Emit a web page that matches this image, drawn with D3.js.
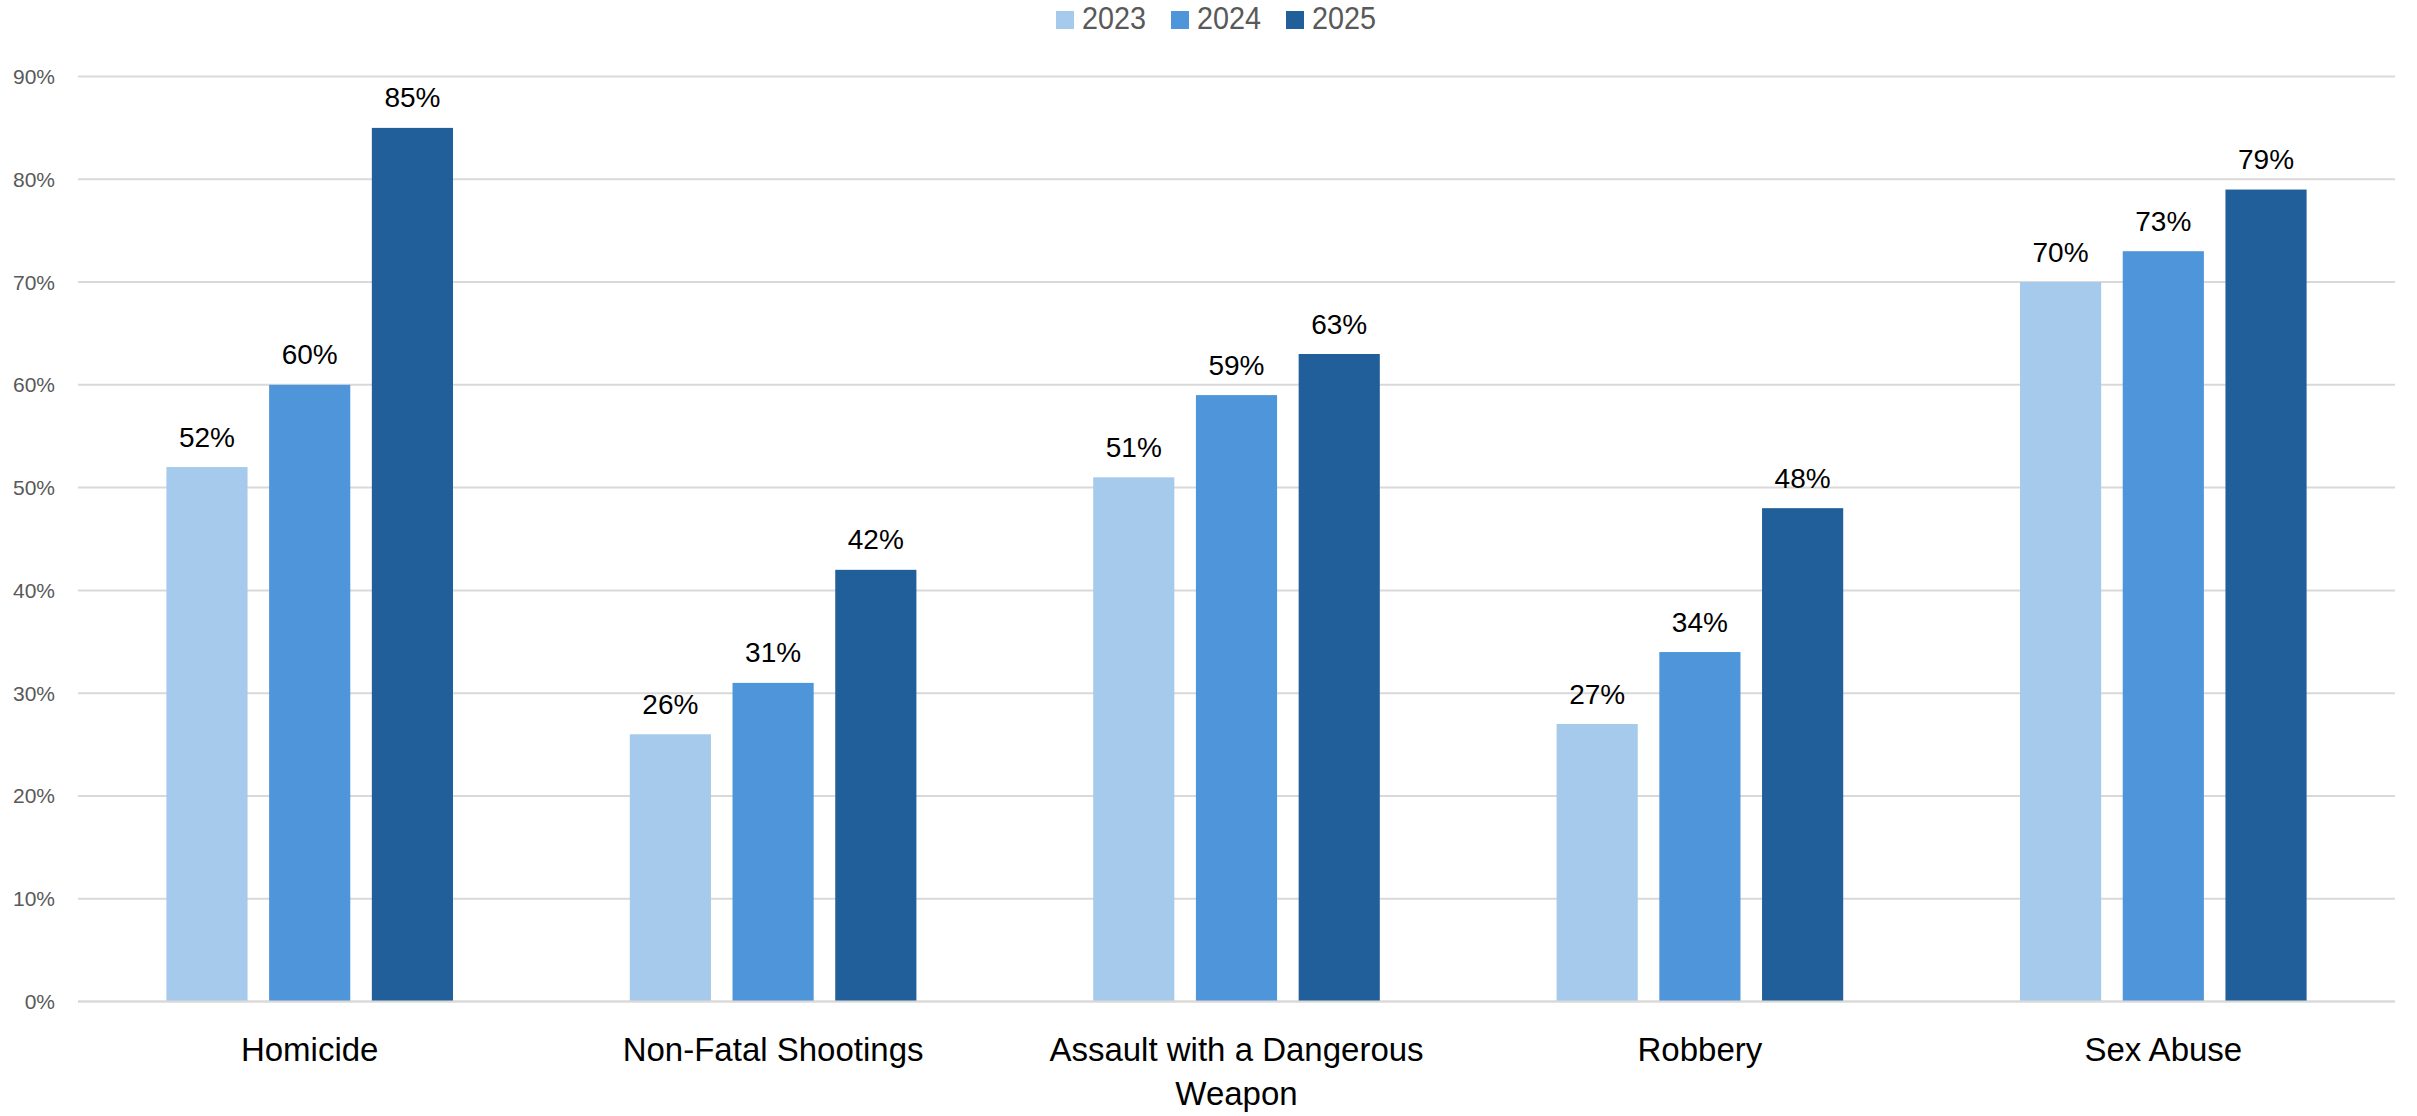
<!DOCTYPE html>
<html>
<head>
<meta charset="utf-8">
<script src="https://cdn.jsdelivr.net/npm/d3@7"></script>
<style>
  html, body { margin: 0; padding: 0; background: #ffffff; }
  svg { display: block; }
</style>
</head>
<body>
<svg id="chart" width="2417" height="1116"></svg>
<script>
const categories = ["Homicide", "Non-Fatal Shootings", "Assault with a Dangerous Weapon", "Robbery", "Sex Abuse"];
const seriesNames = ["2023", "2024", "2025"];
const values2023 = [52, 26, 51, 27, 70];
const values2024 = [60, 31, 59, 34, 73];
const values2025 = [85, 42, 63, 48, 79];
const tickValues = [0, 10, 20, 30, 40, 50, 60, 70, 80, 90];
const colors = ["#A6CAEC", "#4E95D9", "#215F9A"];

const seriesValues = [values2023, values2024, values2025];
const data = categories.map((c, i) => ({
  category: c,
  values: seriesNames.map((s, j) => ({ series: s, value: seriesValues[j][i] }))
}));

const W = 2417, H = 1116;
const plot = { left: 78, right: 2395, top: 76.5, bottom: 1001.5 };
const svg = d3.select("#chart");

const y = d3.scaleLinear().domain([0, 90]).range([plot.bottom, plot.top]);
const x0 = d3.scaleBand().domain(categories).range([plot.left, plot.right]).padding(0);
const groupWidth = x0.bandwidth() * 286.6 / 463.4;
const x1 = d3.scaleBand().domain(seriesNames).range([0, groupWidth]).paddingInner(0.21).paddingOuter(0);

// gridlines
svg.append("g").selectAll("line").data(tickValues).join("line")
  .attr("x1", plot.left).attr("x2", plot.right)
  .attr("y1", d => y(d)).attr("y2", d => y(d))
  .attr("stroke", "#D9D9D9").attr("stroke-width", 2);

// y tick labels
svg.append("g").selectAll("text").data(tickValues).join("text")
  .attr("x", 55).attr("y", d => y(d) + 7.5)
  .attr("text-anchor", "end")
  .attr("font-family", "'Liberation Sans', Arial, sans-serif")
  .attr("font-size", 21)
  .attr("fill", "#595959")
  .text(d => d + "%");

// bars
const groups = svg.append("g").selectAll("g").data(data).join("g")
  .attr("transform", d => `translate(${x0(d.category) + (x0.bandwidth() - groupWidth) / 2},0)`);

groups.selectAll("rect").data(d => d.values).join("rect")
  .attr("x", d => x1(d.series))
  .attr("width", x1.bandwidth())
  .attr("y", d => y(d.value))
  .attr("height", d => y(0) - y(d.value))
  .attr("fill", (d, i) => colors[i]);

groups.selectAll("text.lbl").data(d => d.values).join("text")
  .attr("class", "lbl")
  .attr("x", d => x1(d.series) + x1.bandwidth() / 2)
  .attr("y", d => y(d.value) - 20.5)
  .attr("text-anchor", "middle")
  .attr("font-family", "'Liberation Sans', Arial, sans-serif")
  .attr("font-size", 28)
  .attr("fill", "#000000")
  .text(d => d.value + "%");

// axis line at 0
svg.append("line")
  .attr("x1", plot.left).attr("x2", plot.right)
  .attr("y1", y(0)).attr("y2", y(0))
  .attr("stroke", "#D9D9D9").attr("stroke-width", 2);

// category labels with wrapping
const catG = svg.append("g");
categories.forEach(c => {
  const cx = x0(c) + x0.bandwidth() / 2;
  const t = catG.append("text")
    .attr("x", cx)
    .attr("y", 1061)
    .attr("text-anchor", "middle")
    .attr("font-family", "'Liberation Sans', Arial, sans-serif")
    .attr("font-size", 33)
    .attr("fill", "#000000");
  const words = c.split(" ");
  let line = [];
  let tspan = t.append("tspan").attr("x", cx).attr("dy", 0);
  words.forEach(w => {
    line.push(w);
    tspan.text(line.join(" "));
    if (tspan.node().getComputedTextLength() > 400 && line.length > 1) {
      line.pop();
      tspan.text(line.join(" "));
      line = [w];
      tspan = t.append("tspan").attr("x", cx).attr("dy", 44).text(w);
    }
  });
});

// legend
const legendX = [1056, 1171, 1286];
const leg = svg.append("g");
seriesNames.forEach((s, i) => {
  leg.append("rect")
    .attr("x", legendX[i]).attr("y", 11)
    .attr("width", 18).attr("height", 18)
    .attr("fill", colors[i]);
  leg.append("text")
    .attr("x", legendX[i] + 26).attr("y", 29.3)
    .attr("font-family", "'Liberation Sans', Arial, sans-serif")
    .attr("font-size", 30.5)
    .attr("textLength", 64)
    .attr("lengthAdjust", "spacingAndGlyphs")
    .attr("fill", "#595959")
    .text(s);
});
</script>
</body>
</html>
